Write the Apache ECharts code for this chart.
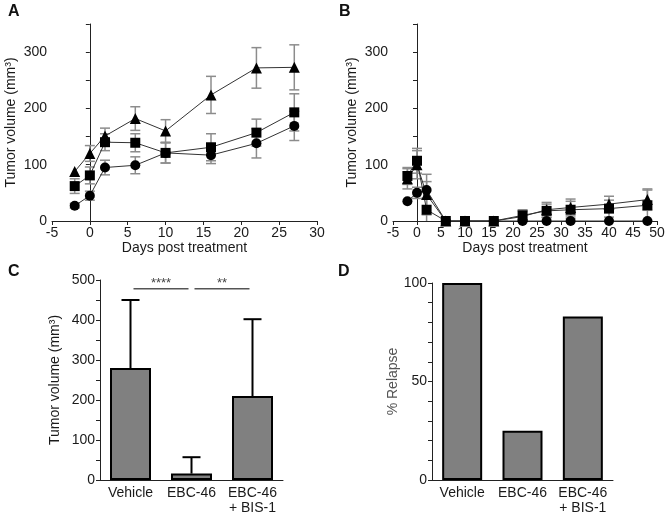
<!DOCTYPE html>
<html>
<head>
<meta charset="utf-8">
<script src="https://cdn.jsdelivr.net/npm/echarts@6/dist/echarts.min.js"></script>
<style>
html, body { margin: 0; padding: 0; background: #fff; }
#chart { width: 669px; height: 516px; }
</style>
</head>
<body>
<div id="chart"></div>
<script>
// panel A - tumour growth, days post treatment
var daysA = [-2, 0, 2, 6, 10, 16, 22, 27];
var triA = [88, 120, 151, 182, 160, 224, 272, 273];
var triErrA = [0, 14, 14, 21, 20, 33, 36, 40];
var sqA = [62, 81, 140, 139, 121, 131, 157, 193];
var sqErrA = [13, 15, 15, 16, 18, 24, 24, 33];
var cirA = [27, 45, 95, 99, 121, 117, 138, 169];
var cirErrA = [4, 8, 13, 15, 18, 15, 26, 26];

// panel B
var daysB = [-2, 0, 2, 6, 10, 16, 22, 27, 32, 40, 48];
var triB = [75, 100, 47, 0, 0, 0, 8, 20, 24, 30, 38];
var triErrB = [18, 25, 36, 0, 0, 0, 12, 13, 15, 14, 19];
var sqB = [80, 107, 20, 0, 0, 0, 10, 18, 20, 22, 28];
var sqErrB = [15, 22, 20, 0, 0, 0, 8, 12, 15, 15, 27];
var cirB = [35, 50, 55, 0, 0, 0, 0, 0, 0, 0, 0];
var cirErrB = [0, 10, 15, 0, 0, 0, 0, 0, 0, 0, 0];

// panels C and D
var groups = ['Vehicle', 'EBC-46', 'EBC-46\n+ BIS-1'];
var volumeC = [280, 16, 210];
var volumeErrC = [170, 41, 192];
var sigPairs = [[0, 1], [1, 2]];
var sigLabels = ['****', '**'];
var sigLevel = 478;
var relapseD = [100, 25, 83];

var FONT = 'Liberation Sans, Arial, sans-serif';
var TXT = '#1a1a1a';

function zip(xs, ys) {
    return xs.map(function (x, i) { return [x, ys[i]]; });
}
function zip3(xs, ys, es) {
    return xs.map(function (x, i) { return [x, ys[i], es[i]]; });
}

function errRender(params, api) {
    var x = api.value(0), m = api.value(1), e = api.value(2);
    if (!e) return null;
    var hi = api.coord([x, m + e]);
    var lo = api.coord([x, Math.max(0, m - e)]);
    var cap = 5;
    var st = { stroke: '#8c8c8c', lineWidth: 1.5 };
    var kids = [
        { type: 'line', shape: { x1: hi[0], y1: hi[1], x2: lo[0], y2: lo[1] }, style: st },
        { type: 'line', shape: { x1: hi[0] - cap, y1: hi[1], x2: hi[0] + cap, y2: hi[1] }, style: st }
    ];
    if (m - e > 0) {
        kids.push({ type: 'line', shape: { x1: lo[0] - cap, y1: lo[1], x2: lo[0] + cap, y2: lo[1] }, style: st });
    }
    return { type: 'group', children: kids };
}

function upErrRender(params, api) {
    var x = api.value(0), m = api.value(1), e = api.value(2);
    var base = api.coord([x, m]);
    var top = api.coord([x, m + e]);
    var cap = 9;
    var st = { stroke: '#000', lineWidth: 2 };
    return { type: 'group', children: [
        { type: 'line', shape: { x1: base[0], y1: base[1], x2: top[0], y2: top[1] }, style: st },
        { type: 'line', shape: { x1: top[0] - cap, y1: top[1], x2: top[0] + cap, y2: top[1] }, style: st }
    ]};
}

function sigRender(params, api) {
    var a = api.coord([api.value(0), api.value(2)]);
    var b = api.coord([api.value(1), api.value(2)]);
    var x1 = a[0] + 3, x2 = b[0] - 3;
    return { type: 'group', children: [
        { type: 'line', shape: { x1: x1, y1: a[1], x2: x2, y2: a[1] }, style: { stroke: '#555', lineWidth: 1.5 } },
        { type: 'text', style: { text: sigLabels[params.dataIndex], x: (x1 + x2) / 2, y: a[1] + 1,
            textAlign: 'center', textVerticalAlign: 'bottom', fill: '#444', font: '13px ' + FONT } }
    ]};
}

function lineSeries(xi, data, symbol, size) {
    return {
        type: 'line', xAxisIndex: xi, yAxisIndex: xi, data: data,
        symbol: symbol, symbolSize: size, showAllSymbol: true,
        lineStyle: { color: '#333', width: 1 },
        itemStyle: { color: '#000' }, z: 3
    };
}
function errSeries(xi, data) {
    return {
        type: 'custom', xAxisIndex: xi, yAxisIndex: xi, data: data,
        renderItem: errRender, encode: { x: 0, y: 1 }, z: 2
    };
}

var axisLine = { show: true, lineStyle: { color: '#222', width: 1 } };
var axisTick = { show: true, length: 4, lineStyle: { color: '#222' } };
var labelStyle = { color: TXT, fontSize: 14, fontFamily: FONT };
var nameStyle = { color: TXT, fontSize: 14, fontFamily: FONT };

function valueX(idx, max) {
    return {
        type: 'value', gridIndex: idx, min: -5, max: max, interval: 5,
        name: 'Days post treatment', nameLocation: 'middle', nameGap: 14, nameTextStyle: nameStyle,
        axisLine: axisLine, axisTick: axisTick, splitLine: { show: false },
        axisLabel: Object.assign({ margin: 5 }, labelStyle)
    };
}
function valueY(idx, max, step, every, name, nameGap, nameColor) {
    return {
        type: 'value', gridIndex: idx, min: 0, max: max, interval: step,
        name: name, nameLocation: 'middle', nameGap: nameGap,
        nameTextStyle: Object.assign({}, nameStyle, { color: nameColor || TXT }),
        axisLine: axisLine, axisTick: axisTick, splitLine: { show: false },
        axisLabel: Object.assign({ margin: 5, formatter: function (v) { return v % every === 0 ? v : ''; } }, labelStyle)
    };
}
function catX(idx) {
    return {
        type: 'category', gridIndex: idx, data: groups,
        axisLine: axisLine, axisTick: { show: false },
        axisLabel: Object.assign({ margin: 6, lineHeight: 15, interval: 0 }, labelStyle, { fontSize: 14 })
    };
}

var chart = echarts.init(document.getElementById('chart'));
var option = {
    animation: false,
    backgroundColor: '#fff',
    textStyle: { fontFamily: FONT },
    graphic: [
        { type: 'text', left: 8, top: 4, style: { text: 'A', font: 'bold 16px ' + FONT, fill: '#111' } },
        { type: 'text', left: 339, top: 4, style: { text: 'B', font: 'bold 16px ' + FONT, fill: '#111' } },
        { type: 'text', left: 8, top: 264, style: { text: 'C', font: 'bold 16px ' + FONT, fill: '#111' } },
        { type: 'text', left: 338, top: 264, style: { text: 'D', font: 'bold 16px ' + FONT, fill: '#111' } }
    ],
    grid: [
        { left: 52, top: 24, width: 265, height: 197 },
        { left: 393, top: 24, width: 264, height: 197 },
        { left: 100, top: 280, width: 183, height: 200 },
        { left: 432, top: 283, width: 181, height: 198 }
    ],
    xAxis: [valueX(0, 30), valueX(1, 50), catX(2), catX(3)],
    yAxis: [
        valueY(0, 350, 50, 100, 'Tumor volume (mm³)', 34),
        valueY(1, 350, 50, 100, 'Tumor volume (mm³)', 34),
        valueY(2, 500, 50, 100, 'Tumor volume (mm³)', 38),
        valueY(3, 100, 10, 50, '% Relapse', 29, '#555')
    ],
    series: [
        errSeries(0, zip3(daysA, triA, triErrA)),
        errSeries(0, zip3(daysA, sqA, sqErrA)),
        errSeries(0, zip3(daysA, cirA, cirErrA)),
        lineSeries(0, zip(daysA, triA), 'triangle', 11),
        lineSeries(0, zip(daysA, sqA), 'rect', 10),
        lineSeries(0, zip(daysA, cirA), 'circle', 10),

        errSeries(1, zip3(daysB, triB, triErrB)),
        errSeries(1, zip3(daysB, sqB, sqErrB)),
        errSeries(1, zip3(daysB, cirB, cirErrB)),
        lineSeries(1, zip(daysB, cirB), 'circle', 10),
        lineSeries(1, zip(daysB, triB), 'triangle', 11),
        lineSeries(1, zip(daysB, sqB), 'rect', 10),

        {
            type: 'bar', xAxisIndex: 2, yAxisIndex: 2, data: volumeC, barWidth: 41,
            itemStyle: { color: '#808080', borderColor: '#000', borderWidth: 2 }
        },
        {
            type: 'custom', xAxisIndex: 2, yAxisIndex: 2,
            data: volumeC.map(function (v, i) { return [i, v, volumeErrC[i]]; }),
            renderItem: upErrRender, encode: { x: 0, y: 1 }, z: 3
        },
        {
            type: 'custom', xAxisIndex: 2, yAxisIndex: 2,
            data: sigPairs.map(function (p) { return [p[0], p[1], sigLevel]; }),
            renderItem: sigRender, encode: { x: [0, 1], y: 2 }, z: 3
        },

        {
            type: 'bar', xAxisIndex: 3, yAxisIndex: 3, data: relapseD, barWidth: 40,
            itemStyle: { color: '#808080', borderColor: '#000', borderWidth: 2 }
        }
    ]
};
chart.setOption(option);
</script>
</body>
</html>
